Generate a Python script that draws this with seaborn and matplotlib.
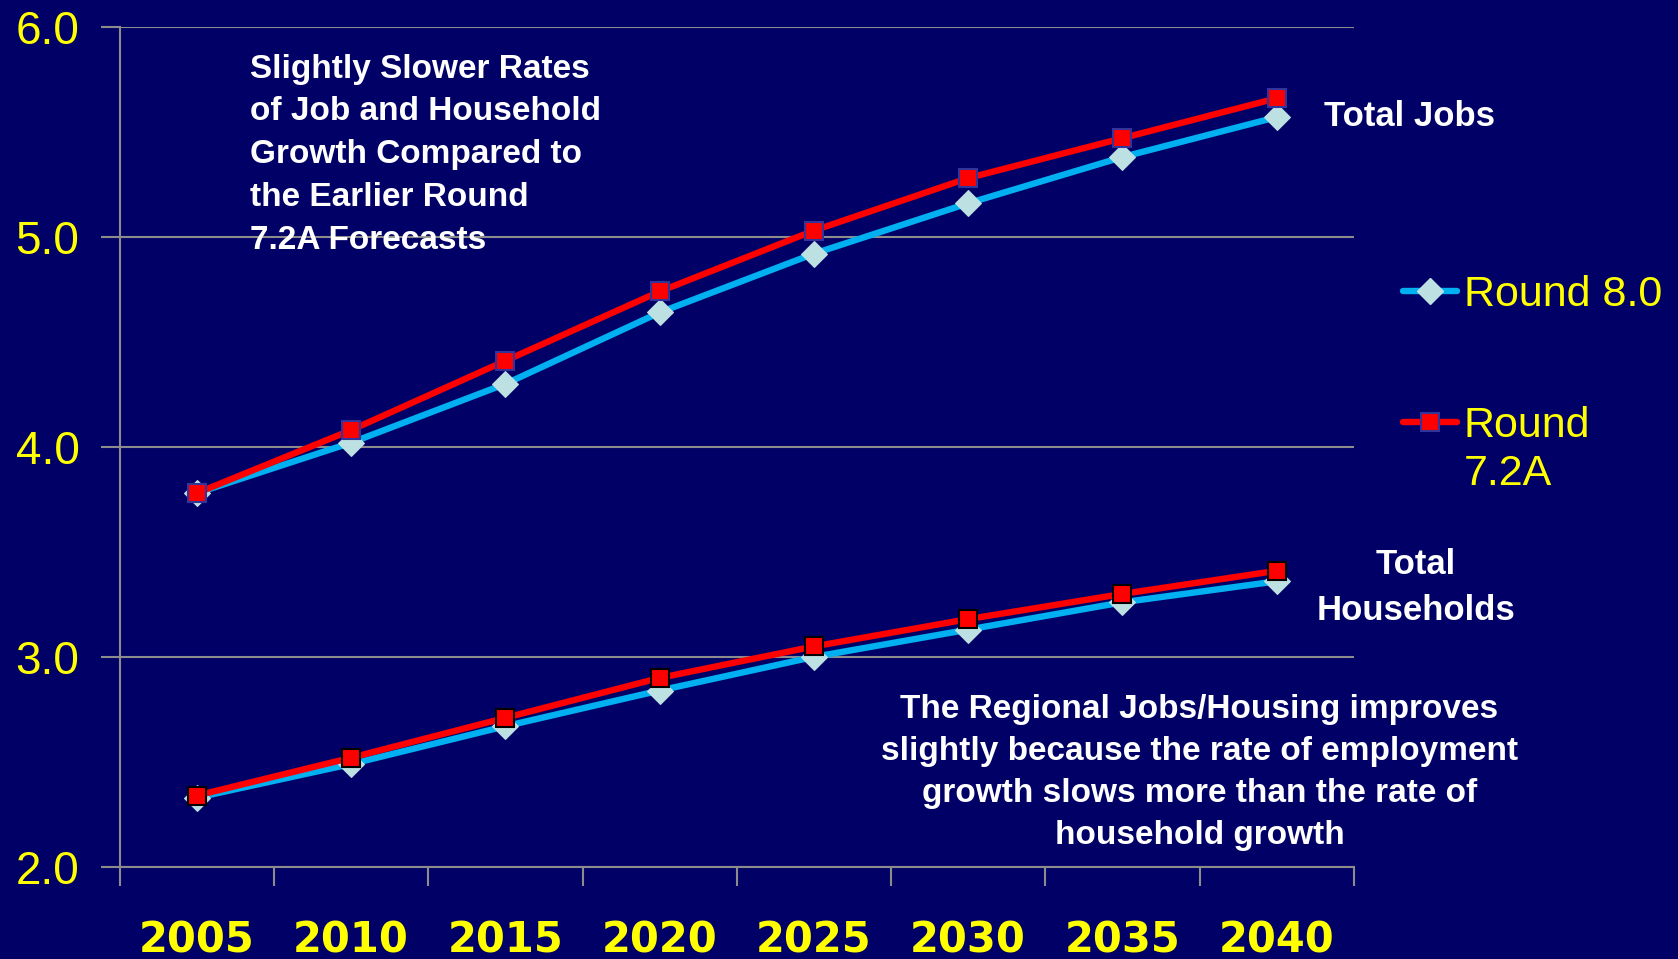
import matplotlib
matplotlib.use("Agg")
import matplotlib.pyplot as plt
import seaborn as sns
import pandas as pd
from matplotlib.lines import Line2D

years = ['2005', '2010', '2015', '2020', '2025', '2030', '2035', '2040']
jobs_r80 = [3.78, 4.02, 4.30, 4.64, 4.92, 5.16, 5.38, 5.57]
jobs_r72a = [3.78, 4.08, 4.41, 4.74, 5.03, 5.28, 5.47, 5.66]
hh_r80 = [2.33, 2.49, 2.67, 2.84, 3.00, 3.13, 3.26, 3.36]
hh_r72a = [2.34, 2.52, 2.71, 2.90, 3.05, 3.18, 3.30, 3.41]
y_ticks = [2.0, 3.0, 4.0, 5.0, 6.0]
y_tick_labels = ['2.0', '3.0', '4.0', '5.0', '6.0']

BG = '#000066'
GRID = '#8c8c8c'
BLUE = '#00b0f0'
RED = '#ff0000'
DIAM = '#bde0e2'
YEL = '#ffff00'

sns.set_theme(style='white')
plt.rcParams['font.family'] = ['Liberation Sans', 'DejaVu Sans']

fig = plt.figure(figsize=(16.78, 9.59), dpi=100, facecolor=BG)
ax = fig.add_axes([0.0714, 0.096, 0.8068 - 0.0714, 0.972 - 0.096])
ax.set_facecolor(BG)

xpos = list(range(len(years)))
df = pd.DataFrame({'x': xpos, 'j80': jobs_r80, 'j72': jobs_r72a,
                   'h80': hh_r80, 'h72': hh_r72a})

lw = 4.6
common = dict(linewidth=lw, ax=ax, legend=False)
sns.lineplot(data=df, x='x', y='j80', color=BLUE, marker='D', markersize=13,
             markerfacecolor=DIAM, markeredgecolor=DIAM, zorder=3, **common)
sns.lineplot(data=df, x='x', y='h80', color=BLUE, marker='D', markersize=13,
             markerfacecolor=DIAM, markeredgecolor=DIAM, zorder=3, **common)
sns.lineplot(data=df, x='x', y='j72', color=RED, marker='s', markersize=13,
             markerfacecolor=RED, markeredgecolor='#333399', markeredgewidth=1.5,
             zorder=4, **common)
sns.lineplot(data=df, x='x', y='h72', color=RED, marker='s', markersize=13,
             markerfacecolor=RED, markeredgecolor='black', markeredgewidth=1.5,
             zorder=4, **common)

ax.set_xlim(-0.5, len(years) - 0.5)
ax.set_ylim(2.0, 6.0)
ax.set_xlabel('')
ax.set_ylabel('')

# x ticks: boundaries as major ticks, labels on minor ticks
ax.set_xticks([i - 0.5 for i in range(len(years) + 1)])
ax.set_xticklabels([])
ax.set_xticks(xpos, minor=True)
ax.set_xticklabels(years, minor=True, fontsize=30, fontweight='bold',
                   color=YEL, family=['DejaVu Sans'])
ax.tick_params(axis='x', which='major', direction='out', length=14,
               width=1.5, color=GRID, bottom=True)
ax.tick_params(axis='x', which='minor', length=0, pad=38)

ax.set_yticks(y_ticks)
ax.set_yticklabels(y_tick_labels, fontsize=33, color=YEL)
ax.tick_params(axis='y', which='major', direction='out', length=14,
               width=1.5, color=GRID, left=True, pad=15)

ax.grid(axis='y', color=GRID, linewidth=1.5)
ax.grid(axis='x', visible=False)
for s in ['top', 'right']:
    ax.spines[s].set_visible(False)
for s in ['left', 'bottom']:
    ax.spines[s].set_color(GRID)
    ax.spines[s].set_linewidth(1.5)
    ax.spines[s].set_zorder(1)

# annotations
ax.text(0.347, 5.391,
        'Slightly Slower Rates\nof Job and Household\nGrowth Compared to\nthe Earlier Round\n7.2A Forecasts',
        color='white', fontsize=24, fontweight='bold', ha='left', va='center',
        linespacing=1.49)
ax.text(7.306, 5.572, 'Total Jobs', color='white', fontsize=25,
        fontweight='bold', ha='left', va='center')
ax.text(7.90, 3.33, 'Total\nHouseholds', color='white', fontsize=25,
        fontweight='bold', ha='center', va='center', linespacing=1.52)
ax.text(6.5, 2.449,
        'The Regional Jobs/Housing improves\nslightly because the rate of employment\ngrowth slows more than the rate of\nhousehold growth',
        color='white', fontsize=24, fontweight='bold', ha='center', va='center',
        linespacing=1.45)

h80 = Line2D([], [], color=BLUE, linewidth=lw, marker='D', markersize=13,
             markerfacecolor=DIAM, markeredgecolor=DIAM)
h72 = Line2D([], [], color=RED, linewidth=lw, marker='s', markersize=13,
             markerfacecolor=RED, markeredgecolor='#333399', markeredgewidth=1.5)
legkw = dict(frameon=False, fontsize=31, labelcolor=YEL, handlelength=1.25,
             handletextpad=0.15, borderaxespad=0, borderpad=0)
fig.legend([h80], ['Round 8.0'], loc='center left',
           bbox_to_anchor=(0.8363, 0.6922), **legkw)
fig.legend([h72], ['Round'], loc='center left',
           bbox_to_anchor=(0.8363, 0.5560), **legkw)
fig.text(0.8722, 0.5055, '7.2A', color=YEL, fontsize=31, ha='left',
         va='center')

fig.savefig('out.png', dpi=100, facecolor=BG)
